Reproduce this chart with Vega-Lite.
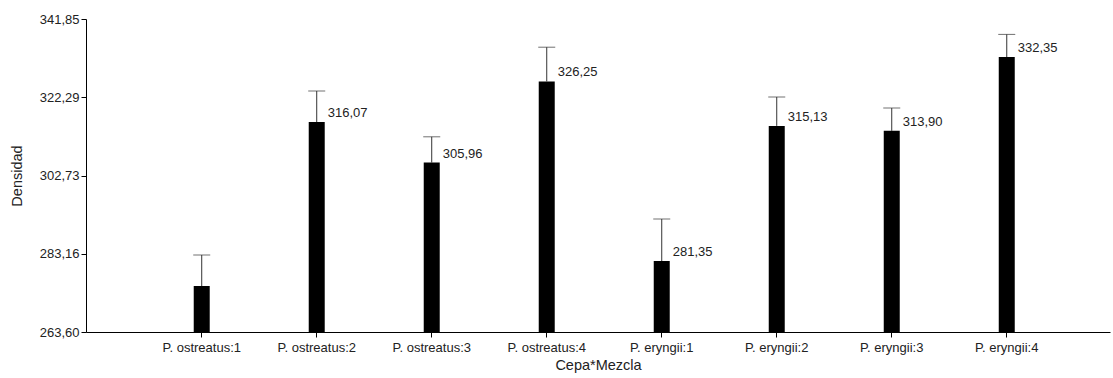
{
  "$schema": "https://vega.github.io/schema/vega-lite/v6.json",
  "width": 1024,
  "height": 313,
  "autosize": "none",
  "padding": {"left": 86, "top": 19, "right": 3, "bottom": 46},
  "background": "white",
  "config": {
    "locale": {"number": {"decimal": ",", "thousands": ".", "grouping": [3], "currency": ["", ""]}},
    "font": "Liberation Sans",
    "view": {"stroke": null},
    "axis": {"grid": false, "domainColor": "#000", "tickColor": "#000", "labelColor": "#222", "titleColor": "#222", "labelFontSize": 13, "titleFontSize": 14.5, "titleFontWeight": "normal", "labelFont": "Liberation Sans", "titleFont": "Liberation Sans"}
  },
  "data": {
    "values": [
      {"grupo": "P. ostreatus:1", "densidad": 275.1, "superior": 282.85, "etiqueta": false},
      {"grupo": "P. ostreatus:2", "densidad": 316.07, "superior": 323.85, "etiqueta": true},
      {"grupo": "P. ostreatus:3", "densidad": 305.96, "superior": 312.4, "etiqueta": true},
      {"grupo": "P. ostreatus:4", "densidad": 326.25, "superior": 334.8, "etiqueta": true},
      {"grupo": "P. eryngii:1", "densidad": 281.35, "superior": 291.85, "etiqueta": true},
      {"grupo": "P. eryngii:2", "densidad": 315.13, "superior": 322.35, "etiqueta": true},
      {"grupo": "P. eryngii:3", "densidad": 313.9, "superior": 319.6, "etiqueta": true},
      {"grupo": "P. eryngii:4", "densidad": 332.35, "superior": 338.0, "etiqueta": true}
    ]
  },
  "encoding": {
    "x": {
      "field": "grupo", "type": "nominal", "sort": null,
      "scale": {"paddingInner": 0, "paddingOuter": 0.452, "align": 0.56},
      "axis": {"title": "Cepa*Mezcla", "labelAngle": 0, "tickSize": 5, "labelPadding": 4, "titlePadding": 4}
    }
  },
  "layer": [
    {
      "mark": {"type": "rule", "color": "#333", "strokeWidth": 1},
      "encoding": {
        "y": {"field": "densidad", "type": "quantitative"},
        "y2": {"field": "superior"}
      }
    },
    {
      "mark": {"type": "tick", "color": "#333", "thickness": 1, "size": 17},
      "encoding": {
        "y": {"field": "superior", "type": "quantitative"}
      }
    },
    {
      "mark": {"type": "bar", "color": "#000", "size": 16},
      "encoding": {
        "y": {
          "field": "densidad", "type": "quantitative",
          "scale": {"domain": [263.6, 341.85], "nice": false, "zero": false},
          "axis": {"title": "Densidad", "values": [263.6, 283.1625, 302.725, 322.2875, 341.85], "format": ".2f", "tickSize": 5, "labelPadding": 2, "titlePadding": 15}
        },
        "y2": {"datum": 263.6}
      }
    },
    {
      "transform": [{"filter": "datum.etiqueta"}],
      "mark": {"type": "text", "align": "left", "baseline": "middle", "dx": 11, "dy": -9, "fontSize": 13, "color": "#222", "font": "Liberation Sans"},
      "encoding": {
        "y": {"field": "densidad", "type": "quantitative"},
        "text": {"field": "densidad", "type": "quantitative", "format": ".2f"}
      }
    }
  ]
}
